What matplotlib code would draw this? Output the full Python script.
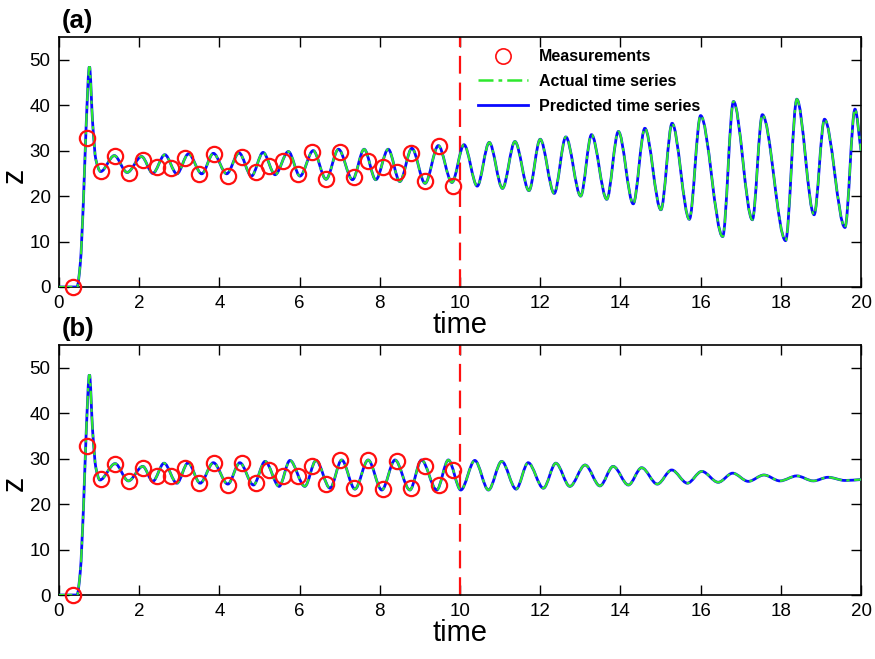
import numpy as np
import matplotlib
matplotlib.use("Agg")
import matplotlib.pyplot as plt
from matplotlib.path import Path
from matplotlib.patches import PathPatch
from matplotlib.lines import Line2D

plt.rcParams['font.family'] = ['Liberation Sans', 'DejaVu Sans']

# Panel (a): extrema of the time series
t_a = [0, 0.45, 0.53, 0.61, 0.68, 0.76, 0.84, 0.92, 1.04, 1.38, 1.70, 2.06, 2.34, 2.64,
       2.94, 3.23, 3.56, 3.85, 4.18, 4.49, 4.80, 5.09, 5.39, 5.72, 6.01, 6.34, 6.66,
       6.97, 7.32, 7.61, 7.90, 8.21, 8.50, 8.80, 9.13, 9.46, 9.80, 10.10, 10.43, 10.73,
       11.06, 11.37, 11.72, 12.00, 12.35, 12.64, 13.01, 13.28, 13.66, 13.95, 14.32,
       14.61, 15.01, 15.29, 15.72, 16.00, 16.55, 16.82, 17.29, 17.54, 18.12, 18.40,
       18.83, 19.09, 19.60, 19.85, 20.0]
z_a = [0, 0, 5, 19, 36, 48.5, 36, 28, 25.4, 28.9, 25.2, 28.7, 25.0, 29.1,
       24.9, 29.3, 24.9, 29.4, 24.9, 29.5, 24.4, 29.6, 24.7, 29.8, 24.4, 30.0, 23.7,
       30.3, 23.6, 30.3, 23.6, 30.3, 23.2, 30.5, 22.8, 31.1, 23.0, 31.3, 22.2, 31.8,
       21.7, 32.0, 21.2, 32.5, 20.6, 33.0, 20.0, 33.5, 19.3, 34.2, 18.3,
       34.9, 17.0, 36.0, 14.9, 37.7, 11.1, 40.8, 14.8, 37.9, 10.2, 41.3,
       15.9, 36.9, 13.1, 39.1, 30.0]

# Panel (b)
t_b = [0, 0.45, 0.53, 0.61, 0.68, 0.76, 0.84, 0.92, 1.02, 1.40, 1.73, 2.09, 2.34, 2.62,
       2.94, 3.22, 3.52, 3.85, 4.21, 4.51, 4.85, 5.14, 5.49, 5.76, 6.13, 6.41, 6.76,
       7.05, 7.38, 7.71, 8.05, 8.38, 8.75, 9.04, 9.42, 9.71, 10.02, 10.37, 10.71, 11.04,
       11.40, 11.70, 12.08, 12.39, 12.74, 13.12, 13.49, 13.82, 14.20, 14.53, 14.92,
       15.28, 15.67, 16.03, 16.44, 16.80, 17.19, 17.58, 17.98, 18.40, 18.81, 19.18,
       19.60, 20.0]
z_b = [0, 0, 5, 19, 36, 48.5, 36, 28, 25.3, 28.9, 25.1, 28.3, 25.0, 29.0,
       24.6, 29.1, 24.6, 29.1, 24.4, 29.1, 24.2, 29.4, 23.9, 29.6, 23.9, 29.6, 23.5,
       29.7, 23.3, 29.7, 23.1, 29.7, 23.1, 29.7, 23.1, 29.7, 23.1, 29.6, 23.1, 29.4,
       23.3, 29.1, 23.5, 29.0, 23.9, 28.6, 24.0, 28.3, 24.2, 28.0, 24.4,
       27.5, 24.6, 27.2, 24.8, 26.8, 25.0, 26.4, 25.1, 26.2, 25.1, 25.9,
       25.2, 25.4]

# Measurements
meas_t = [0.36, 0.71, 1.06, 1.40, 1.74, 2.10, 2.44, 2.79, 3.14, 3.50, 3.87, 4.22, 4.56, 4.91,
          5.24, 5.59, 5.95, 6.32, 6.67, 7.01, 7.36, 7.71, 8.07, 8.42, 8.77, 9.12, 9.48, 9.82]
meas_a = [0, 32.7, 25.6, 28.9, 25.0, 28.0, 26.4, 26.1, 28.3, 24.9, 29.3, 24.4, 28.7, 25.2,
          26.7, 27.8, 24.9, 29.8, 23.8, 29.8, 24.1, 27.8, 26.5, 25.4, 29.4, 23.4, 31.1, 22.3]
meas_b = [0, 32.8, 25.5, 28.9, 25.0, 27.9, 26.2, 26.2, 27.9, 24.6, 29.1, 24.2, 29.0, 24.6,
          27.5, 26.2, 26.1, 28.3, 24.4, 29.6, 23.5, 29.7, 23.3, 29.4, 23.5, 28.4, 24.2, 27.4]

t_split = 10

BLUE = '#0a0aff'
GREEN = '#2ee82e'
RED = '#ff1010'


def curve_path(t, z):
    # smooth monotone cubic bezier through the read points
    t = np.asarray(t, float)
    z = np.asarray(z, float)
    h = np.diff(t)
    d = np.diff(z) / h
    m = np.zeros_like(z)
    for i in range(1, len(z) - 1):
        if d[i - 1] * d[i] > 0:
            w1 = 2 * h[i] + h[i - 1]
            w2 = h[i] + 2 * h[i - 1]
            m[i] = (w1 + w2) / (w1 / d[i - 1] + w2 / d[i])
    m[-1] = d[-1]
    verts = [(t[0], z[0])]
    codes = [Path.MOVETO]
    for i in range(len(h)):
        verts += [(t[i] + h[i] / 3, z[i] + m[i] * h[i] / 3),
                  (t[i + 1] - h[i] / 3, z[i + 1] - m[i + 1] * h[i] / 3),
                  (t[i + 1], z[i + 1])]
        codes += [Path.CURVE4] * 3
    return Path(verts, codes)


def draw_panel(ax, t, z, mz, tag):
    p = curve_path(t, z)
    ax.add_patch(PathPatch(p, fill=False, edgecolor=BLUE, lw=2.0, zorder=3))
    ax.add_patch(PathPatch(p, fill=False, edgecolor=GREEN, lw=1.6,
                           linestyle=(0, (6, 2, 1.5, 2)), zorder=4))
    ax.plot(meas_t, mz, 'o', mfc='none', mec=RED, ms=11, mew=1.6, zorder=5, clip_on=False)
    ax.axvline(t_split, color=RED, lw=1.6, ls=(0, (8, 4)), zorder=2)
    ax.set_xlim(0, 20)
    ax.set_ylim(0, 55)
    ax.set_xticks(range(0, 21, 2))
    ax.set_yticks(range(0, 51, 10))
    ax.tick_params(direction='in', top=True, right=True, length=7, width=1,
                   labelsize=13.5, pad=6)
    ax.set_xlabel('time', fontsize=21, labelpad=-1)
    ax.set_ylabel('z', fontsize=22)
    ax.yaxis.set_label_coords(-0.036, 0.445)
    for s in ax.spines.values():
        s.set_linewidth(1.2)
    ax.text(0.004, 1.015, tag, transform=ax.transAxes, fontsize=18.5, fontweight='bold',
            ha='left', va='bottom')


fig = plt.figure(figsize=(8.75, 6.59), dpi=100)
ax1 = fig.add_axes([0.0674, 0.5645, 0.9166, 0.3794])
ax2 = fig.add_axes([0.0674, 0.0971, 0.9166, 0.3794])

draw_panel(ax1, t_a, z_a, meas_a, '(a)')
draw_panel(ax2, t_b, z_b, meas_b, '(b)')

handles = [Line2D([], [], marker='o', ls='none', mfc='none', mec=RED, ms=11, mew=1.2),
           Line2D([], [], color=GREEN, lw=1.8, ls=(0, (6, 2, 1.5, 2))),
           Line2D([], [], color=BLUE, lw=2.0)]
labels = ['Measurements', 'Actual time series', 'Predicted time series']
ax1.legend(handles, labels, loc='upper left', bbox_to_anchor=(0.5225, 0.95),
           frameon=False, prop={'weight': 'bold', 'size': 11.5}, handlelength=3.1,
           handletextpad=0.7, labelspacing=0.6, borderpad=0, borderaxespad=0,
           numpoints=1)

fig.savefig('out.png', dpi=100)
